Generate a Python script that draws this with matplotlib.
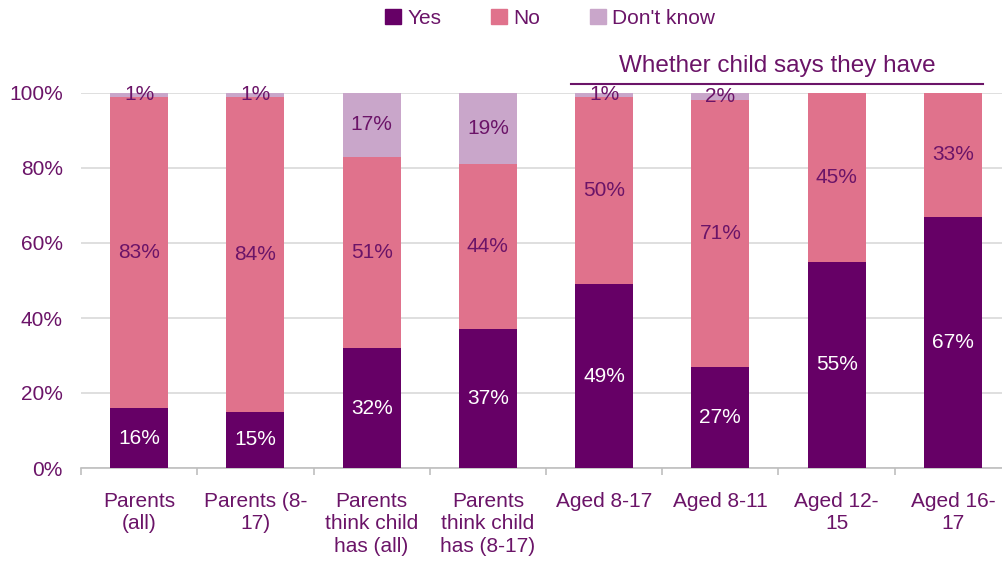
import numpy as np
import matplotlib
matplotlib.use("Agg")
import matplotlib.pyplot as plt
from matplotlib.patches import Patch

plt.rcParams["font.family"] = ["Liberation Sans", "DejaVu Sans"]

categories = ["Parents\n(all)", "Parents (8-\n17)", "Parents\nthink child\nhas (all)",
              "Parents\nthink child\nhas (8-17)", "Aged 8-17", "Aged 8-11",
              "Aged 12-\n15", "Aged 16-\n17"]
yes = [16, 15, 32, 37, 49, 27, 55, 67]
no = [83, 84, 51, 44, 50, 71, 45, 33]
dont_know = [1, 1, 17, 19, 1, 2, 0, 0]

C_YES, C_NO, C_DK = "#660066", "#E0728C", "#C9A6CA"
TXT = "#6B1468"
FS = 15

fig = plt.figure(figsize=(10.02, 5.65), dpi=100)
ax = fig.add_axes([81 / 1002, 97 / 565, 930 / 1002, 375 / 565])

x = np.arange(len(categories))
series = [(yes, C_YES, "Yes", "white"), (no, C_NO, "No", TXT),
          (dont_know, C_DK, "Don't know", TXT)]
bottom = np.zeros(len(x))
for vals, col, name, tcol in series:
    vals = np.array(vals, dtype=float)
    ax.bar(x, vals, 0.5, bottom=bottom, color=col, zorder=3)
    for xi, b, v in zip(x, bottom, vals):
        if v > 0:
            ax.text(xi, b + v / 2, f"{v:.0f}%", ha="center", va="center",
                    fontsize=FS, color=tcol, zorder=4)
    bottom += vals

ax.set_xlim(-0.5, len(x) - 0.5)
ax.set_ylim(0, 100)
ax.set_yticks(range(0, 101, 20))
ax.set_yticklabels([f"{v}%" for v in range(0, 101, 20)])
ax.set_xticks(x)
ax.set_xticklabels(categories, fontsize=FS, color=TXT, linespacing=1.25)
ax.set_xticks(np.arange(-0.5, len(x)), minor=True)
ax.tick_params(axis="x", which="major", length=0, pad=17)
ax.tick_params(axis="x", which="minor", length=5, color="#BFBFBF", width=1.2)
ax.tick_params(axis="y", length=0, labelsize=FS, labelcolor=TXT, pad=13)
ax.grid(axis="y", color="#D9D9D9", lw=1.2, zorder=0)
for s in ("top", "right", "left"):
    ax.spines[s].set_visible(False)
ax.spines["bottom"].set_color("#BFBFBF")
ax.spines["bottom"].set_linewidth(1.2)

# bracket over the child-reported groups
ax.plot([3.715, 7.257], [102.4, 102.4], color=TXT, lw=1.5, clip_on=False, zorder=5)
ax.text(5.486, 104.2, "Whether child says they have", ha="center", va="bottom",
        fontsize=17.5, color=TXT, clip_on=False)

handles = [Patch(color=c, label=n) for _, c, n, _ in series]
fig.legend(handles=handles, loc="center", bbox_to_anchor=(550 / 1002, 1 - 18 / 565),
           ncol=3, frameon=False, fontsize=FS, labelcolor=TXT, handlelength=0.75,
           handleheight=0.75, handletextpad=0.3, columnspacing=2.4)

fig.savefig("out.png", dpi=100)
